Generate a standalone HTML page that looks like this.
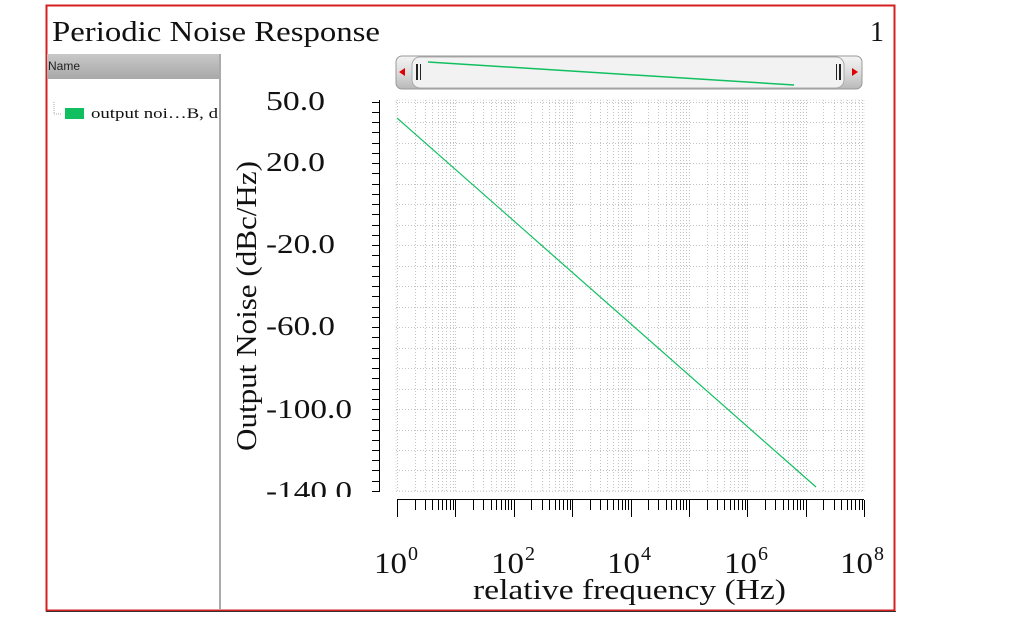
<!DOCTYPE html>
<html><head><style>
body{margin:0;width:1013px;height:617px;background:#fff;overflow:hidden;font-family:"Liberation Serif",serif}
</style></head><body>
<svg width="1013" height="617" xmlns="http://www.w3.org/2000/svg">
<rect x="0" y="0" width="1013" height="617" fill="#fff"/>
<rect x="46.5" y="5.5" width="848" height="605" fill="#fff" stroke="#d42020" stroke-width="2"/>
<line x1="46" y1="611.5" x2="896" y2="611.5" stroke="#333" stroke-width="1"/>
<text x="52" y="41" font-size="28" fill="#111" textLength="328" lengthAdjust="spacingAndGlyphs">Periodic Noise Response</text>
<text x="870" y="41" font-size="28" fill="#111">1</text>
<defs><linearGradient id="hg" x1="0" y1="0" x2="0" y2="1"><stop offset="0" stop-color="#c8c8c8"/><stop offset="1" stop-color="#a8a8a8"/></linearGradient>
<linearGradient id="sg" x1="0" y1="0" x2="0" y2="1"><stop offset="0" stop-color="#f4f4f4"/><stop offset="0.5" stop-color="#dcdcdc"/><stop offset="1" stop-color="#b8b8b8"/></linearGradient>
<clipPath id="yc"><rect x="0" y="0" width="400" height="497"/></clipPath></defs>
<rect x="47" y="54" width="173" height="25" fill="url(#hg)"/>
<text x="48" y="70" font-family="Liberation Sans,sans-serif" font-size="12" fill="#222">Name</text>
<line x1="220" y1="54" x2="220" y2="610" stroke="#aaa" stroke-width="2"/>
<line x1="54" y1="102" x2="54" y2="114" stroke="#aaa" stroke-dasharray="1,1"/>
<line x1="54" y1="114" x2="62" y2="114" stroke="#aaa" stroke-dasharray="1,1"/>
<rect x="65" y="108" width="19" height="11" fill="#10c060"/>
<text x="91" y="118" font-size="15" fill="#111" textLength="127" lengthAdjust="spacingAndGlyphs">output noi…B, d</text>
<rect x="396" y="56" width="466" height="33" rx="6" fill="url(#sg)" stroke="#999"/>
<rect x="412" y="57" width="432" height="31" rx="8" fill="#f2f2f2" stroke="#aaa"/>
<polygon points="399,72 405,68 405,76" fill="#d00"/><polygon points="858,72 852,68 852,76" fill="#d00"/>
<rect x="416" y="64" width="2" height="16" fill="#222"/><rect x="420" y="64" width="1" height="16" fill="#222"/>
<rect x="836" y="64" width="1" height="16" fill="#222"/><rect x="839" y="64" width="2" height="16" fill="#222"/>
<line x1="428" y1="62" x2="794" y2="85" stroke="#10c060" stroke-width="1.5"/>
<g id="grid" stroke="#c4c4c4" stroke-dasharray="1,2" fill="none"></g>
<rect x="396" y="100" width="468" height="391" fill="none" stroke="#ddd" stroke-dasharray="1,2"/>
<line x1="379.5" y1="100" x2="379.5" y2="491" stroke="#000"/>
<g id="yt" stroke="#000"></g>
<line x1="397" y1="499.5" x2="864" y2="499.5" stroke="#000"/>
<g id="xt" stroke="#000"></g>
<g font-size="27" fill="#111" clip-path="url(#yc)">
<text x="266" y="110" textLength="59" lengthAdjust="spacingAndGlyphs">50.0</text>
<text x="266" y="171" textLength="59" lengthAdjust="spacingAndGlyphs">20.0</text>
<text x="266" y="253" textLength="69" lengthAdjust="spacingAndGlyphs">-20.0</text>
<text x="266" y="335" textLength="69" lengthAdjust="spacingAndGlyphs">-60.0</text>
<text x="266" y="418" textLength="86" lengthAdjust="spacingAndGlyphs">-100.0</text>
<text x="266" y="500" textLength="86" lengthAdjust="spacingAndGlyphs">-140.0</text>
</g>
<text transform="translate(256,306) rotate(-90)" font-size="28" text-anchor="middle" fill="#111" textLength="290" lengthAdjust="spacingAndGlyphs">Output Noise (dBc/Hz)</text>
<g font-size="30" fill="#111">
<text x="374" y="573" textLength="33" lengthAdjust="spacingAndGlyphs">10</text><text x="408" y="560" font-size="20">0</text>
<text x="491" y="573" textLength="33" lengthAdjust="spacingAndGlyphs">10</text><text x="525" y="560" font-size="20">2</text>
<text x="607" y="573" textLength="33" lengthAdjust="spacingAndGlyphs">10</text><text x="641" y="560" font-size="20">4</text>
<text x="724" y="573" textLength="33" lengthAdjust="spacingAndGlyphs">10</text><text x="758" y="560" font-size="20">6</text>
<text x="840" y="573" textLength="33" lengthAdjust="spacingAndGlyphs">10</text><text x="874" y="560" font-size="20">8</text>
</g>
<text x="473" y="599" font-size="29" fill="#111" textLength="313" lengthAdjust="spacingAndGlyphs">relative frequency (Hz)</text>
<polyline points="397,118 816,487" fill="none" stroke="#10c060" stroke-width="1.2"/>
</svg>
<script>
var ns="http://www.w3.org/2000/svg";
function L(g,x1,y1,x2,y2){var l=document.createElementNS(ns,"line");l.setAttribute("x1",x1);l.setAttribute("y1",y1);l.setAttribute("x2",x2);l.setAttribute("y2",y2);document.getElementById(g).appendChild(l);}
var x0=397,d=58.4;
for(var k=0;k<8;k++){for(var m=1;m<10;m++){var x=Math.round(x0+d*(k+Math.log10(m)))+0.5;
L("grid",x,100,x,491);L("xt",x,500,x,m==1?517:510);}}
L("xt",864.5,500,864.5,517);
for(var v=50;v>=-140;v-=10){var y=Math.round(101.5+(50-v)*2.05)+0.5;L("grid",396,y,864,y);}
for(var v=50;v>=-140;v-=5){var y=Math.round(101.5+(50-v)*2.05)+0.5;L("yt",372,y,380,y);}
</script>
</body></html>
